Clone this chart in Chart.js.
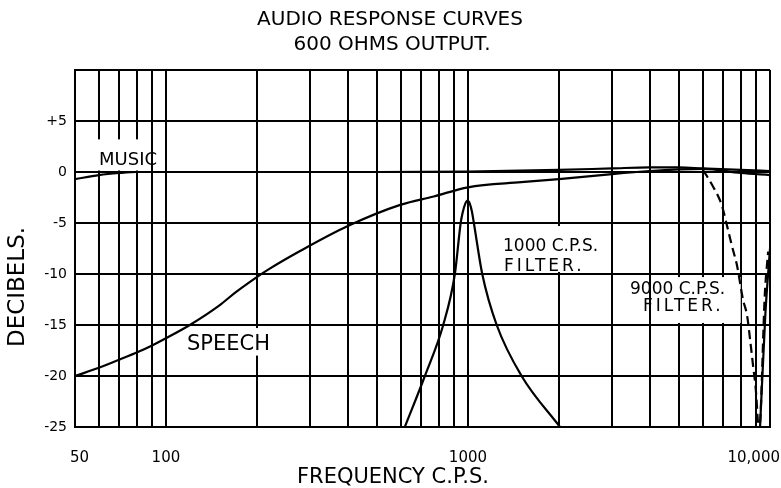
<!DOCTYPE html>
<html>
<head>
<meta charset="utf-8">
<script src="https://cdn.jsdelivr.net/npm/chart.js@4.4.1/dist/chart.umd.min.js"></script>
<style>
  html, body { margin: 0; padding: 0; background: #fff; }
  #wrap { width: 781px; height: 488px; }
</style>
</head>
<body>
<div id="wrap"><canvas id="audioChart" width="781" height="488"></canvas></div>
<script>
// values (frequency in c.p.s., level in dB)
const musicFreq = [50, 60, 70, 80, 100, 200, 500, 1000, 2000, 3000, 4000, 5000, 6000, 8000, 10000];
const musicDb = [-0.7, -0.3, -0.1, 0, 0, 0, 0, 0.05, 0.2, 0.35, 0.45, 0.45, 0.35, 0.2, 0.1];

const speechFreq = [50, 60, 70, 80, 90, 100, 120, 150, 170, 200, 220, 280, 400, 600, 770, 1000, 1500, 2000, 3000, 4000, 5000, 6000, 8000, 10000];
const speechDb = [-20, -19.2, -18.4, -17.7, -17, -16.3, -15, -13.1, -11.8, -10.3, -9.5, -7.7, -5.3, -3.2, -2.4, -1.5, -1, -0.7, -0.2, 0.1, 0.25, 0.3, -0.1, -0.3];

const filter1000Freq = [618, 720, 828, 905, 946, 960, 980, 997, 1014, 1031, 1046, 1115, 1245, 1505, 2017];
const filter1000Db = [-25, -20, -15, -10, -5, -4, -3.1, -2.8, -3.1, -3.9, -5, -10, -15, -20, -25];

const filter9000Freq = [6000, 6470, 6930, 7210, 7490, 7780, 8140, 8400, 8590, 8790, 8990, 9120, 9200, 9620, 9860];
const filter9000Db = [0.2, -1.4, -3.3, -5.3, -7.3, -9.2, -12.5, -14.1, -16.4, -19, -21.6, -24.5, -25.5, -11.8, -7.8];

const upperBandFreq = [9270, 9650, 10000];
const upperBandDb = [-25, -14, -7.5];

const freqTicks = [50, 60, 70, 80, 90, 100, 200, 300, 400, 500, 600, 700, 800, 900,
  1000, 2000, 3000, 4000, 5000, 6000, 7000, 8000, 9000, 10000];
const freqLabels = { 50: "50", 100: "100", 1000: "1000", 10000: "10,000" };

const pts = (xs, ys) => xs.map((x, i) => ({ x: x, y: ys[i] }));

const FONT = "'DejaVu Sans', sans-serif";

// white patches behind the hand lettering, then the lettering itself
const lettering = {
  id: "lettering",
  beforeDatasetsDraw(chart) {
    const ctx = chart.ctx;
    const xs = chart.scales.x, ys = chart.scales.y;
    const boxes = [
      [58, 84, 3.2, 0.15],
      [140, 290, -15.3, -18],
      [1010, 2200, -5.3, -9.8],
      [4700, 8000, -10.3, -14.8]
    ];
    ctx.save();
    ctx.fillStyle = "#fff";
    boxes.forEach(([f0, f1, d0, d1]) => {
      const x0 = xs.getPixelForValue(f0), x1 = xs.getPixelForValue(f1);
      const y0 = ys.getPixelForValue(d0), y1 = ys.getPixelForValue(d1);
      ctx.fillRect(x0, y0, x1 - x0, y1 - y0);
    });
    ctx.restore();
  },
  afterDatasetsDraw(chart) {
    const ctx = chart.ctx;
    const area = chart.chartArea;
    const xs = chart.scales.x;
    ctx.save();
    ctx.fillStyle = "#000";
    ctx.textBaseline = "middle";

    // titles
    ctx.textAlign = "center";
    ctx.font = "20px " + FONT;
    ctx.fillText("AUDIO RESPONSE CURVES", 390, 20);
    ctx.fillText("600 OHMS OUTPUT.", 392, 45);
    ctx.font = "21px " + FONT;
    ctx.fillText("FREQUENCY C.P.S.", 393, 478);

    ctx.save();
    ctx.translate(18, 287);
    ctx.rotate(-Math.PI / 2);
    ctx.font = "23px " + FONT;
    ctx.fillText("DECIBELS.", 0, 0);
    ctx.restore();

    // frequency labels placed from the log scale, pulled inside at the ends
    ctx.font = "15px " + FONT;
    freqTicks.forEach(f => {
      const txt = freqLabels[f];
      if (!txt) return;
      const w = ctx.measureText(txt).width;
      let x = xs.getPixelForValue(f);
      x = Math.max(area.left - 5 + w / 2, Math.min(area.right + 10 - w / 2, x));
      ctx.fillText(txt, x, 458);
    });

    // curve names
    ctx.textAlign = "left";
    ctx.font = "18px " + FONT;
    ctx.fillText("MUSIC", 99, 160);
    ctx.font = "21px " + FONT;
    ctx.fillText("SPEECH", 187, 345);
    ctx.font = "17px " + FONT;
    ctx.fillText("1000 C.P.S.", 503, 247);
    ctx.fillText("9000 C.P.S.", 630, 290);
    ctx.letterSpacing = "3px";
    ctx.fillText("FILTER.", 504, 267);
    ctx.fillText("FILTER.", 643, 307);
    ctx.restore();
  }
};

const line = (label, data, dash) => ({
  label: label,
  data: data,
  borderColor: "#000",
  borderWidth: 2.2,
  borderDash: dash || [],
  pointRadius: 0,
  fill: false,
  tension: 0.4,
  cubicInterpolationMode: "monotone"
});

new Chart(document.getElementById("audioChart"), {
  type: "line",
  data: {
    datasets: [
      line("Music", pts(musicFreq, musicDb)),
      line("Speech", pts(speechFreq, speechDb)),
      line("1000 C.P.S. Filter", pts(filter1000Freq, filter1000Db)),
      line("9000 C.P.S. Filter", pts(filter9000Freq, filter9000Db), [9, 5]),
      line("9000 C.P.S. Filter upper", pts(upperBandFreq, upperBandDb))
    ]
  },
  options: {
    responsive: false,
    animation: false,
    layout: { padding: { top: 70, right: 11, left: 0, bottom: 0 } },
    plugins: { legend: { display: false }, tooltip: { enabled: false } },
    scales: {
      x: {
        type: "logarithmic",
        min: 50,
        max: 10000,
        afterBuildTicks: (scale) => { scale.ticks = freqTicks.map(v => ({ value: v })); },
        afterFit: (scale) => { scale.height = 61; },
        ticks: { display: false },
        grid: { color: "#000", lineWidth: 2, drawTicks: false },
        border: { color: "#000", width: 2 }
      },
      y: {
        min: -25,
        max: 10,
        afterFit: (scale) => { scale.width = 75; },
        ticks: {
          stepSize: 5,
          padding: 8,
          color: "#000",
          font: { family: "DejaVu Sans", size: 14 },
          callback: (v) => v === 10 ? "" : (v > 0 ? "+" + v : String(v))
        },
        grid: { color: "#000", lineWidth: 2, drawTicks: false },
        border: { color: "#000", width: 2 }
      }
    }
  },
  plugins: [lettering]
});
</script>
</body>
</html>
